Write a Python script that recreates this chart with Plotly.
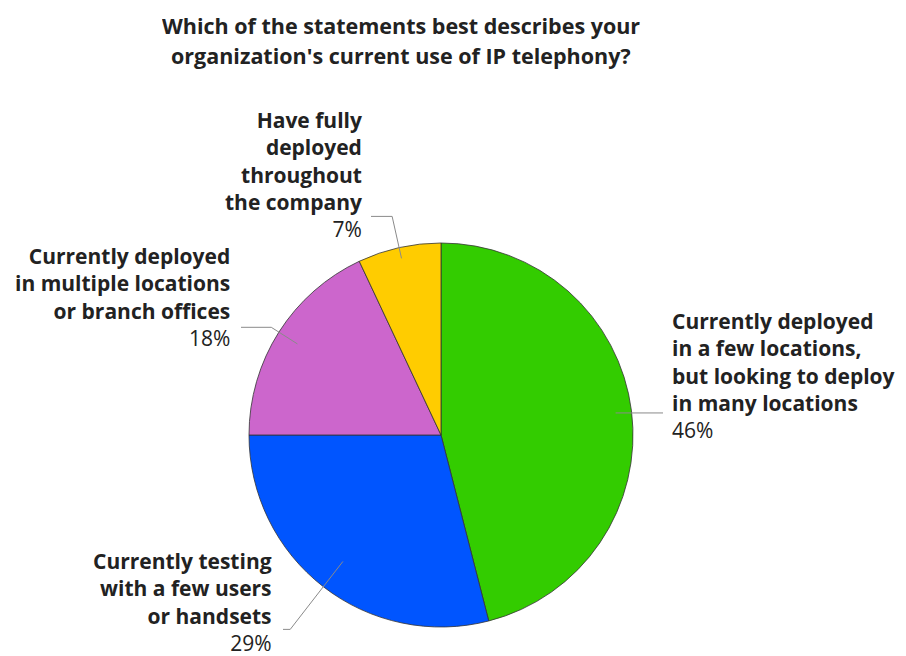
import math
import plotly.graph_objects as go

labels = [
    ["Currently deployed", "in a few locations,", "but looking to deploy", "in many locations"],
    ["Currently testing", "with a few users", "or handsets"],
    ["Currently deployed", "in multiple locations", "or branch offices"],
    ["Have fully", "deployed", "throughout", "the company"],
]
values = [46, 29, 18, 7]
colors = ["#33CC00", "#0055FF", "#CC66CC", "#FFCC00"]
title_lines = ["Which of the statements best describes your",
               "organization's current use of IP telephony?"]

W, H = 906, 656
CX, CY, R = 441, 435, 192

def px(x):
    return x / W

def py(y):
    return 1 - y / H

fig = go.Figure(go.Pie(
    values=values,
    labels=[" ".join(l) for l in labels],
    marker=dict(colors=colors, line=dict(color="#333333", width=0.8)),
    sort=False, direction="clockwise", rotation=0,
    textinfo="none", hoverinfo="label+percent",
    domain=dict(x=[px(CX - R), px(CX + R)], y=[py(CY + R), py(CY - R)]),
    showlegend=False,
))

FONT = "Open Sans"
FS = 21
# label layout: (anchor x, block center y, align, start radius, elbow radius, line end x)
layout_info = [
    (671, 376, "left", 176, None, 663),
    (273, 602, "right", 160, 246, 283),
    (231, 297, "right", 170, 201, 241),
    (363, 174, "right", 181, 224, 371),
]

total = sum(values)
cum = 0
shapes = []
annotations = []
for lab, v, (ax, ay, al, r0, r1, xe) in zip(labels, values, layout_info):
    mid = (cum + v / 2) / total * 2 * math.pi
    cum += v
    dx, dy = math.sin(mid), -math.cos(mid)
    x0, y0 = CX + r0 * dx, CY + r0 * dy
    if r1 is None:
        pts = [(x0, y0), (xe, y0)]
    else:
        x1, y1 = CX + r1 * dx, CY + r1 * dy
        pts = [(x0, y0), (x1, y1), (xe, y1)]
    for (a, b), (c, d) in zip(pts[:-1], pts[1:]):
        shapes.append(dict(type="line", xref="paper", yref="paper",
                           x0=px(a), y0=py(b), x1=px(c), y1=py(d),
                           line=dict(color="#8a8a8a", width=1)))
    pct = round(v / total * 100)
    text = "<b>" + "<br>".join(lab) + "</b><br>" + f"{pct}%"
    annotations.append(dict(
        x=px(ax), y=py(ay), xref="paper", yref="paper",
        xanchor="left" if al == "left" else "right", yanchor="middle",
        align=al, showarrow=False, text=text, borderpad=0,
        font=dict(family=FONT, size=FS, color="#222222"),
    ))

for i, t in enumerate(title_lines):
    annotations.append(dict(
        x=px(401), y=py(25 + i * 30), xref="paper", yref="paper",
        xanchor="center", yanchor="middle", showarrow=False,
        text="<b>" + t + "</b>", height=28, borderpad=0,
        font=dict(family=FONT, size=21.5, color="#222222"),
    ))

fig.update_layout(
    width=W, height=H,
    margin=dict(l=0, r=0, t=0, b=0),
    paper_bgcolor="white", plot_bgcolor="white",
    shapes=shapes, annotations=annotations,
)

fig.write_html("out.html")
